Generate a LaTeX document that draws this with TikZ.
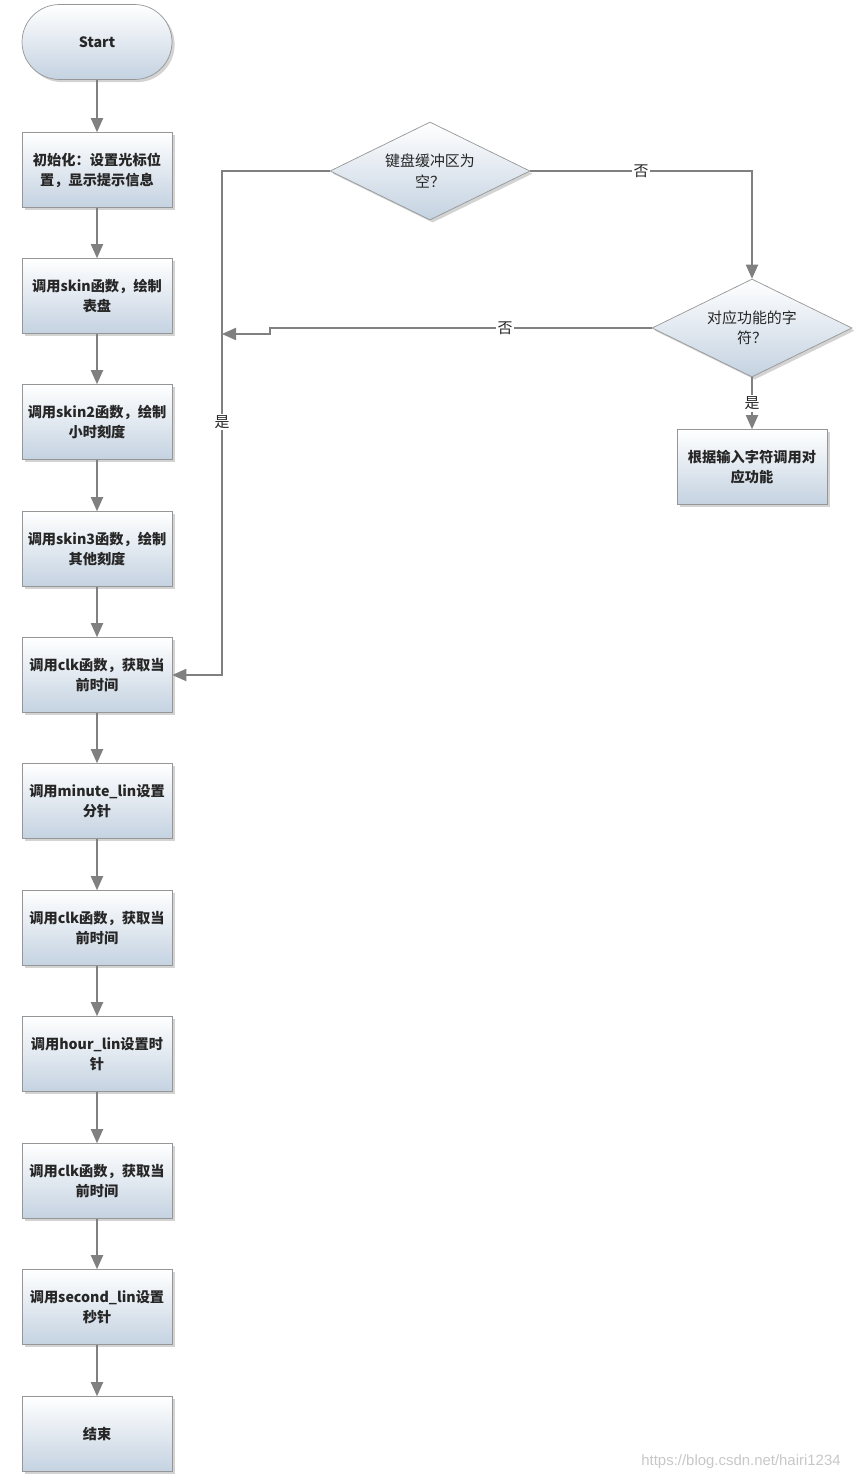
\documentclass[tikz,border=0pt]{standalone}
\usepackage{fontspec}
\usepackage{tikz}
\usetikzlibrary{shapes.geometric,shadows,arrows.meta}
\newfontfamily\cjk{Noto Sans CJK SC}
\setsansfont{Liberation Sans}
\definecolor{fondbas}{RGB}{196,210,225}
\definecolor{trait}{RGB}{128,128,128}
\definecolor{bord}{RGB}{150,150,150}

\tikzset{
  boite/.style={draw=bord, rectangle, minimum width=3cm, minimum height=1.5cm,
    inner xsep=0.5pt, top color=white, bottom color=fondbas, align=center, text=black!85,
    font=\cjk\bfseries\fontsize{8.1}{11.5}\selectfont,
    drop shadow={shadow xshift=1.5pt, shadow yshift=-1.5pt, opacity=0.35}},
  losange/.style={boite, diamond, aspect=2, inner sep=0pt,
    minimum width=4cm, minimum height=1.96cm,
    font=\cjk\fontsize{8.5}{11.5}\selectfont},
  etiq/.style={fill=white, inner sep=1pt, text=black!85, font=\cjk\fontsize{8.5}{10}\selectfont}
}

\begin{document}
\begin{tikzpicture}[x=0.02cm, y=-0.02cm, >={Triangle[width=7pt,length=8pt]}] % 1 unite = 1 pixel
\useasboundingbox (0,0) rectangle (862,1481); % Cadre de l'image

% Colonne de gauche
\node[boite, rounded corners=0.75cm] (start) at (97,42) {Start};
\node[boite] (b1) at (97,170) {初始化：设置光标位\\置，显示提示信息};
\node[boite] (b2) at (97,296) {调用skin函数，绘制\\表盘};
\node[boite] (b3) at (97,422) {调用skin2函数，绘制\\小时刻度};
\node[boite] (b4) at (97,549) {调用skin3函数，绘制\\其他刻度};
\node[boite] (b5) at (97,675) {调用clk函数，获取当\\前时间};
\node[boite] (b6) at (97,801) {调用minute\_lin设置\\分针};
\node[boite] (b7) at (97,928) {调用clk函数，获取当\\前时间};
\node[boite] (b8) at (97,1054) {调用hour\_lin设置时\\针};
\node[boite] (b9) at (97,1181) {调用clk函数，获取当\\前时间};
\node[boite] (b10) at (97,1307) {调用second\_lin设置\\秒针};
\node[boite] (b11) at (97,1434) {结束};

% Les fleches de la colonne
\draw[->, trait, line width=0.7pt] (start) -- (b1);
\foreach \i [evaluate=\i as \j using int(\i+1)] in {1,...,10}
  \draw[->, trait, line width=0.7pt] (b\i) -- (b\j);

% Les tests a droite
\node[losange] (d1) at (430,171) {键盘缓冲区为\\空？};
\node[losange] (d2) at (752,328) {对应功能的字\\符？};
\node[boite] (b12) at (752,467) {根据输入字符调用对\\应功能};

% Points de passage
\coordinate (k1) at (222,171);
\coordinate (k2) at (270,328);
\coordinate (k3) at (270,334);
\coordinate (k4) at (222,334);

\draw[->, trait, line width=0.7pt] (d1) -- (k1) |- (b5);
\node[etiq] (oui1) at (222,422) {是};
\draw[->, trait, line width=0.7pt] (d1) -| (d2) node[etiq, pos=0.25] (non1) {否};
\draw[->, trait, line width=0.7pt] (d2) -- (k2) -- (k3) -- (k4);
\node[etiq] (non2) at (505,328) {否};
\draw[->, trait, line width=0.7pt] (d2) -- (b12) node[etiq, midway] (oui2) {是};

% Filigrane
\node[text=black!22, font=\sffamily\fontsize{8.5}{10}\selectfont] (filigrane) at (741,1462) {https://blog.csdn.net/hairi1234};
\end{tikzpicture}
\end{document}
